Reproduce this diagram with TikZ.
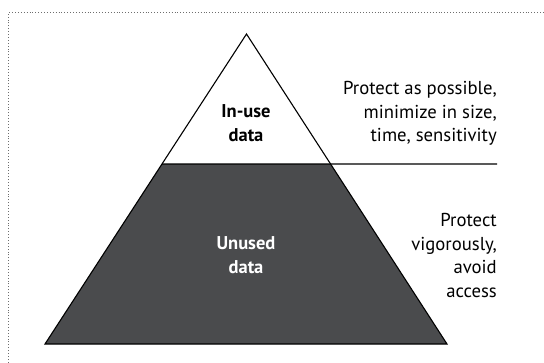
\documentclass[tikz,border=0pt]{standalone}
\usepackage{fontspec}
\setmainfont{PT Sans}
\usetikzlibrary{calc}
\definecolor{slate}{RGB}{74,75,77}
\definecolor{framegray}{RGB}{110,110,110}
\tikzset{
  % anchored at the baseline of the last line of each block
  note/.style={anchor=base east, align=right, inner sep=0pt,
    font=\fontsize{18.7}{23.5}\selectfont},
  tier/.style={anchor=base, align=center, inner sep=0pt,
    font=\fontsize{18.5}{24}\selectfont\bfseries},
  rule/.style={line width=1.1pt, black},
}
\begin{document}
\begin{tikzpicture}[x=1pt, y=-1pt]
  \useasboundingbox (0,0) rectangle (544,362);
  % cropped dotted frame (only top and left edges fall inside the page)
  \draw[framegray, dotted, line width=0.9pt] (8.5,380) -- (8.5,12.5) -- (560,12.5);

  % pyramid corners and the level that splits it
  \coordinate (apex) at (246.5,34);
  \coordinate (bl) at (45,344);
  \coordinate (br) at (447,344);
  \coordinate (sl) at ($(apex)!0.4194!(bl)$);
  \coordinate (sr) at ($(apex)!0.4194!(br)$);
  \coordinate (lineend) at (497,164);

  % lower (unused) part, filled
  \fill[slate] (sl) -- (bl) -- (br) -- (sr) -- cycle;
  % outline of the whole pyramid
  \draw[rule, line join=miter] (apex) -- (bl) -- (br) -- cycle;
  % dividing line running out to the notes
  \draw[rule] (sl) -- (lineend);

  % tier labels
  \node[tier] (inuse) at (246,141.5) {In-use\\data};
  \node[tier, white] (unused) at (246,273.5) {Unused\\data};

  % notes on the right
  \node[note] (top) at (497,141.5) {Protect as possible,\\minimize in size,\\time, sensitivity};
  \node[note] (bottom) at (497,297) {Protect\\vigorously,\\avoid\\access};
\end{tikzpicture}
\end{document}
